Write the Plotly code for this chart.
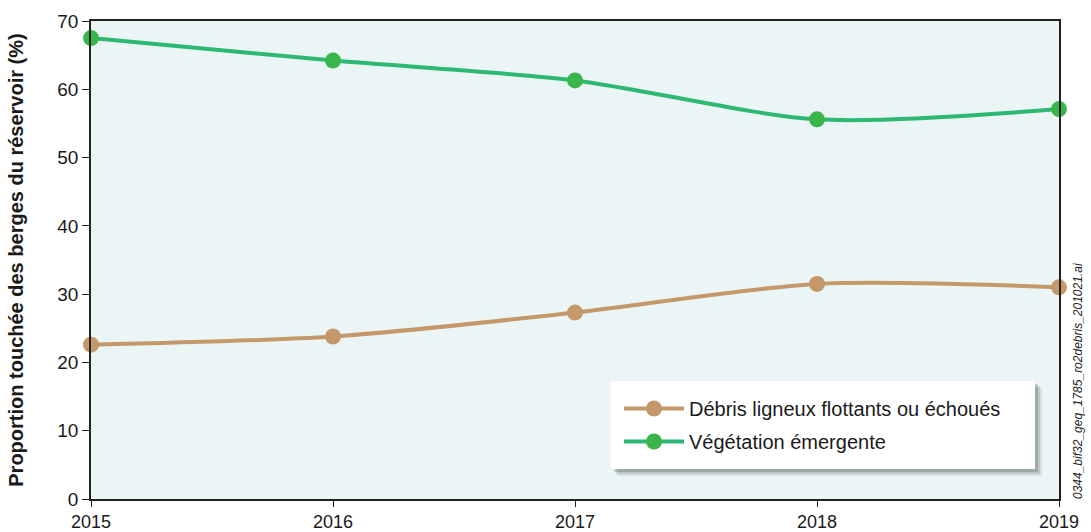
import plotly.graph_objects as go

years = [2015, 2016, 2017, 2018, 2019]
debris = [22.6, 23.8, 27.3, 31.5, 31.0]
vegetation = [67.5, 64.2, 61.3, 55.6, 57.1]
series_names = ["Débris ligneux flottants ou échoués", "Végétation émergente"]
y_ticks = [0, 10, 20, 30, 40, 50, 60, 70]

brown = "#C4986A"
green_line = "#2DB873"
green_marker = "#3AB54A"

fig = go.Figure()
fig.add_trace(go.Scatter(
    x=years, y=debris, name=series_names[0], mode="lines+markers",
    line=dict(color=brown, width=4, shape="spline", smoothing=0.8),
    marker=dict(color=brown, size=16), cliponaxis=False, legendgroup="a"))
fig.add_trace(go.Scatter(
    x=years, y=vegetation, name=series_names[1], mode="lines+markers",
    line=dict(color=green_line, width=4, shape="spline", smoothing=0.8),
    marker=dict(color=green_marker, size=16), cliponaxis=False, legendgroup="b"))

L, R, T, B = 91, 1059, 21, 499
W, H = R - L, B - T
def px(x): return (x - L) / W
def py(y): return (B - y) / H

# soft shadow
for off, alpha in [(7, 0.12), (5, 0.18), (3, 0.25)]:
    fig.add_shape(type="rect", xref="paper", yref="paper", layer="above",
                  x0=px(611 + off), x1=px(1035 + off), y0=py(469 + off), y1=py(381 + off),
                  fillcolor="rgba(70,80,80,%s)" % alpha, line=dict(width=0))
fig.add_shape(type="rect", xref="paper", yref="paper", layer="above",
              x0=px(611), x1=px(1035), y0=py(469), y1=py(381),
              fillcolor="white", line=dict(width=0))

fig.update_layout(
    width=1091, height=532,
    margin=dict(l=91, r=32, t=21, b=33, autoexpand=False),
    paper_bgcolor="white",
    plot_bgcolor="#EBF5F6",
    font=dict(family="Liberation Sans, Arial, sans-serif", size=16, color="#1a1a1a"),
    showlegend=True,
    legend=dict(x=px(619), y=py(389), xanchor="left", yanchor="top",
                bgcolor="rgba(0,0,0,0)", font=dict(size=20),
                traceorder="grouped", tracegroupgap=4, itemwidth=60),
    xaxis=dict(range=[2015, 2019], tickvals=years, ticktext=[str(y) for y in years],
               showgrid=False, zeroline=False, showline=True, linecolor="#222",
               linewidth=1.5, mirror=True, ticks="outside", ticklen=6,
               tickcolor="#222", tickfont=dict(size=18), automargin=False),
    yaxis=dict(range=[0, 70], tickvals=y_ticks, showgrid=False, zeroline=False,
               showline=True, linecolor="#222", linewidth=1.5, mirror=True,
               ticks="outside", ticklen=7, tickcolor="#222", tickfont=dict(size=19),
               automargin=False,
               title=dict(text="<b>Proportion touchée des berges du réservoir (%)</b>",
                          font=dict(size=20), standoff=28)),
)

fig.add_annotation(text="<i>0344_bif32_geq_1785_ro2debris_201021.ai</i>",
                   xref="paper", yref="paper", x=px(1078), y=py(381),
                   xanchor="center", yanchor="middle",
                   showarrow=False, textangle=-90, font=dict(size=12, color="#222"))

fig.write_html("out.html", post_script="document.body.style.margin='0';",
               config={"displayModeBar": False})
